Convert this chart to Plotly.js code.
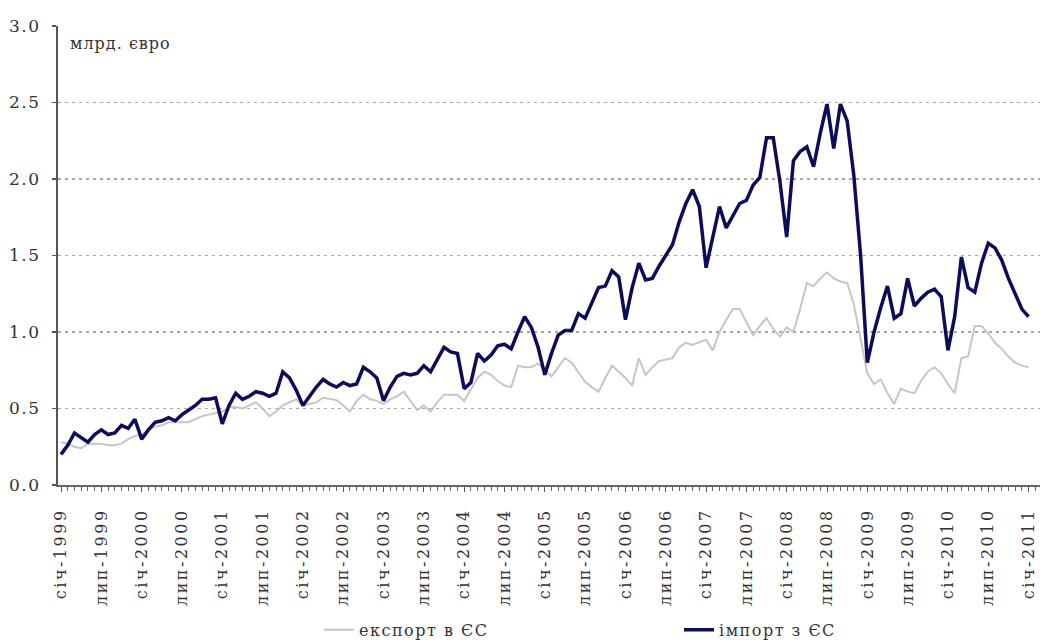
<!DOCTYPE html>
<html>
<head>
<meta charset="utf-8">
<script src="https://cdn.plot.ly/plotly-3.0.1.min.js"></script>
<style>
  html, body { margin: 0; padding: 0; background: #fff; }
  #chart { width: 1046px; height: 644px; }
  .xtick text { letter-spacing: 2.5px; }
  .ytick text { letter-spacing: 1.5px; }
  .legendtext { letter-spacing: 1.5px; }
  .annotation-text { letter-spacing: 1px; }
</style>
</head>
<body>
<div id="chart"></div>
<script>
// Tick labels (every 6 months, Jan 1999 .. Jan 2011)
const tickLabels = [
  "січ-1999","лип-1999","січ-2000","лип-2000","січ-2001","лип-2001",
  "січ-2002","лип-2002","січ-2003","лип-2003","січ-2004","лип-2004",
  "січ-2005","лип-2005","січ-2006","лип-2006","січ-2007","лип-2007",
  "січ-2008","лип-2008","січ-2009","лип-2009","січ-2010","лип-2010",
  "січ-2011"
];

// Monthly values, bn EUR, Jan 1999 .. Jan 2011
const exportToEU = [
  0.28,0.27,0.25,0.24,0.27,0.27,0.27,0.26,0.26,0.27,
  0.30,0.32,0.33,0.36,0.38,0.39,0.41,0.41,0.41,0.41,
  0.43,0.45,0.46,0.47,0.48,0.51,0.51,0.50,0.52,0.54,
  0.50,0.45,0.48,0.52,0.54,0.56,0.52,0.53,0.54,
  0.57,0.56,0.555,0.52,0.48,0.55,0.59,0.56,0.55,0.53,
  0.56,0.58,0.61,0.55,0.49,0.52,0.48,0.54,0.59,0.59,
  0.59,0.55,0.63,0.70,0.74,0.72,0.68,0.65,0.64,0.78,
  0.77,0.77,0.795,0.75,0.71,0.77,0.83,0.80,0.74,0.675,
  0.64,0.61,0.70,0.78,0.74,0.70,0.65,0.83,0.72,0.77,
  0.81,0.82,0.83,0.90,0.93,0.915,0.93,
  0.95,0.88,1.00,1.08,1.15,1.15,1.06,0.98,1.04,1.09,
  1.02,0.97,1.03,1.00,1.15,1.32,1.30,1.35,1.39,1.35,
  1.33,1.32,1.18,0.95,0.73,0.66,0.69,0.60,0.53,0.63,
  0.61,0.60,0.68,0.74,0.77,0.73,0.66,0.60,0.83,0.84,
  1.04,1.04,0.99,0.93,0.89,0.84,0.80,0.78,0.77
];

const importFromEU = [
  0.20,0.26,0.34,0.31,0.28,0.33,0.36,0.33,0.34,0.39,
  0.37,0.43,0.30,0.36,0.41,0.42,0.44,0.42,0.46,0.49,
  0.52,0.56,0.56,0.57,0.40,0.52,0.60,0.56,0.58,0.61,
  0.60,0.58,0.60,0.74,0.70,0.62,0.52,0.58,0.64,0.69,
  0.66,0.64,0.67,0.65,0.66,0.77,0.74,0.70,0.55,0.64,
  0.71,0.73,0.72,0.73,0.78,0.74,0.82,0.90,0.87,0.86,
  0.63,0.67,0.86,0.81,0.85,0.91,0.92,0.89,1.00,1.10,
  1.03,0.90,0.72,0.86,0.98,1.01,1.01,1.12,1.09,1.19,
  1.29,1.30,1.40,1.36,1.08,1.29,1.45,1.34,1.35,1.43,
  1.50,1.57,1.72,1.84,1.93,1.82,1.42,1.61,1.82,1.68,
  1.76,1.84,1.86,1.96,2.01,2.27,2.27,1.98,1.62,2.12,
  2.18,2.21,2.08,2.30,2.49,2.20,2.49,2.38,2.02,1.50,
  0.80,1.00,1.16,1.30,1.09,1.12,1.35,1.17,1.22,1.26,
  1.28,1.23,0.88,1.10,1.49,1.29,1.26,1.45,1.58,1.55,
  1.47,1.35,1.25,1.15,1.10
];

const seriesNames = ["експорт в ЄС", "імпорт з ЄС"];
const unitLabel = "млрд. євро";

const idx = exportToEU.map((_, i) => i);
const tickIdx = tickLabels.map((_, i) => i * 6);

const FONT = "'DejaVu Serif', 'Liberation Serif', 'Noto Serif', serif";

const traces = [
  {
    x: idx, y: exportToEU, type: "scatter", mode: "lines",
    name: seriesNames[0],
    line: { color: "#c6c6c6", width: 2 }
  },
  {
    x: idx, y: importFromEU, type: "scatter", mode: "lines",
    name: seriesNames[1],
    line: { color: "#0c0c5a", width: 3.5 }
  }
];

const layout = {
  width: 1046, height: 644,
  margin: { l: 58, r: 6, t: 26, b: 159, autoexpand: false },
  paper_bgcolor: "#fff", plot_bgcolor: "#fff",
  font: { family: FONT, size: 17, color: "#333" },
  showlegend: true,
  legend: {
    orientation: "h",
    xref: "container", yref: "container",
    x: 0.305, xanchor: "left",
    y: 0.022, yanchor: "middle",
    entrywidth: 315, entrywidthmode: "pixels",
    font: { family: FONT, size: 16, color: "#333" },
    bgcolor: "rgba(0,0,0,0)"
  },
  xaxis: {
    range: [-0.45, 145.7],
    tickmode: "array", tickvals: tickIdx, ticktext: tickLabels,
    tickangle: -90,
    ticks: "outside", ticklen: 5, tickwidth: 1, tickcolor: "#555",
    minor: { tickmode: "linear", tick0: 0, dtick: 1, ticks: "outside", ticklen: 4, tickwidth: 1, tickcolor: "#666", showgrid: false },
    showgrid: false, zeroline: false,
    showline: true, linecolor: "#666", linewidth: 2,
    tickfont: { family: FONT, size: 16, color: "#333" },
    ticklabelstandoff: 10,
    automargin: false,
    fixedrange: true
  },
  yaxis: {
    range: [0, 3],
    tickmode: "linear", tick0: 0, dtick: 0.5, tickformat: ".1f",
    ticks: "outside", ticklen: 4, tickwidth: 1.5, tickcolor: "#555",
    showgrid: true, gridcolor: "#a8a8a8", gridwidth: 1.5, griddash: "3px,4px",
    zeroline: false,
    showline: true, linecolor: "#555", linewidth: 2,
    tickfont: { family: FONT, size: 17, color: "#333" },
    ticklabelstandoff: 8,
    automargin: false,
    fixedrange: true
  },
  annotations: [
    {
      text: unitLabel, xref: "paper", yref: "paper",
      x: 0.01, y: 0.962, xanchor: "left", yanchor: "middle",
      showarrow: false,
      font: { family: FONT, size: 16, color: "#333" }
    }
  ]
};

Plotly.newPlot("chart", traces, layout, { displayModeBar: false, staticPlot: true });
</script>
</body>
</html>
